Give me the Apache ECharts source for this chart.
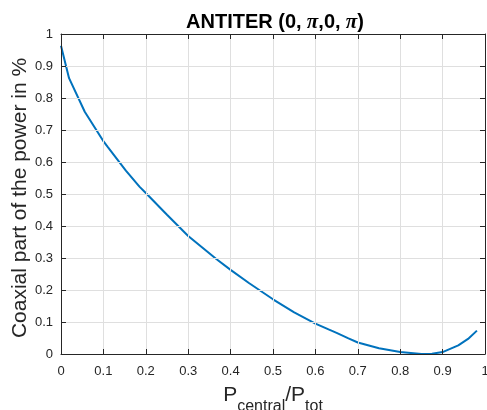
<!DOCTYPE html>
<html>
<head>
<meta charset="utf-8">
<script src="https://cdn.jsdelivr.net/npm/echarts@6/dist/echarts.min.js"></script>
<style>
  html, body { margin: 0; padding: 0; background: #fff; }
  #chart { width: 487px; height: 410px; }
</style>
</head>
<body>
<div id="chart"></div>
<script>
// Curve samples
const xValues = [0, 0.019, 0.056, 0.099, 0.111, 0.153, 0.185, 0.2, 0.25, 0.3, 0.367, 0.4, 0.444, 0.5, 0.55, 0.6, 0.631, 0.65, 0.678, 0.7, 0.75, 0.8, 0.85, 0.875, 0.9, 0.937, 0.96, 0.981];
const yValues = [0.963, 0.862, 0.757, 0.667, 0.646, 0.573, 0.523, 0.503, 0.435, 0.369, 0.296, 0.263, 0.221, 0.171, 0.13, 0.095, 0.077, 0.066, 0.049, 0.036, 0.018, 0.006, 0.0, 0.001, 0.006, 0.027, 0.047, 0.073];
const xTicks = [0, 0.1, 0.2, 0.3, 0.4, 0.5, 0.6, 0.7, 0.8, 0.9, 1];
const yTicks = [0, 0.1, 0.2, 0.3, 0.4, 0.5, 0.6, 0.7, 0.8, 0.9, 1];

const FONT = 'Liberation Sans, Arial, Helvetica, sans-serif';
const AX = '#262626';
const seriesData = xValues.map((x, i) => [x, yValues[i]]);
const fmt = v => String(+(+v).toFixed(1));

const chart = echarts.init(document.getElementById('chart'), null, { renderer: 'canvas' });

const baseAxis = (pos) => ({
  type: 'value',
  position: pos,
  min: 0, max: 1, interval: 0.1,
  axisLine: { show: true, onZero: false, lineStyle: { color: AX, width: 1 } },
  axisTick: { show: true, inside: true, length: 5, lineStyle: { color: AX, width: 1 } },
  splitLine: { show: false },
  axisLabel: { show: false },
  z: 5
});

chart.setOption({
  animation: false,
  backgroundColor: '#ffffff',
  title: {
    text: '{b|ANTITER (0,}{p| π}{b|,0,}{p| π}{b|)}',
    left: 270, top: 7,
    textAlign: 'center',
    textStyle: {
      rich: {
        b: { fontFamily: FONT, fontWeight: 'bold', fontSize: 20, color: '#000' },
        p: { fontFamily: 'Liberation Serif, DejaVu Serif, serif', fontStyle: 'italic', fontSize: 21, color: '#000' }
      }
    }
  },
  grid: { left: 61, right: 2, top: 34, bottom: 56, containLabel: false, outerBoundsMode: 'none' },
  xAxis: [
    Object.assign(baseAxis('bottom'), {
      splitLine: { show: true, lineStyle: { color: '#dfdfdf', width: 1 } },
      axisLabel: { show: true, formatter: fmt, color: AX, fontFamily: FONT, fontSize: 13, margin: 11,
        customValues: xTicks },
      name: '{a|P}{s|central}{a|/P}{s|tot}',
      nameLocation: 'middle',
      nameGap: 31,
      nameMoveOverlap: false,
      nameTextStyle: {
        rich: {
          a: { fontFamily: FONT, fontSize: 21, color: AX, lineHeight: 30, verticalAlign: 'top' },
          s: { fontFamily: FONT, fontSize: 16, color: AX, lineHeight: 17, verticalAlign: 'bottom' }
        }
      }
    }),
    baseAxis('top')
  ],
  yAxis: [
    Object.assign(baseAxis('left'), {
      splitLine: { show: true, lineStyle: { color: '#dfdfdf', width: 1 } },
      axisLabel: { show: true, formatter: fmt, color: AX, fontFamily: FONT, fontSize: 13, margin: 8,
        customValues: yTicks },
      name: 'Coaxial part of the power in %',
      nameLocation: 'middle',
      nameGap: 30,
      nameMoveOverlap: false,
      nameTextStyle: { fontFamily: FONT, fontSize: 21, color: AX, padding: [0, 8, 0, 0] }
    }),
    baseAxis('right')
  ],
  series: [{
    type: 'line',
    data: seriesData,
    xAxisIndex: 0, yAxisIndex: 0,
    showSymbol: false,
    symbol: 'none',
    clip: false,
    lineStyle: { color: '#0072BD', width: 2 },
    z: 4
  }]
});
</script>
</body>
</html>
